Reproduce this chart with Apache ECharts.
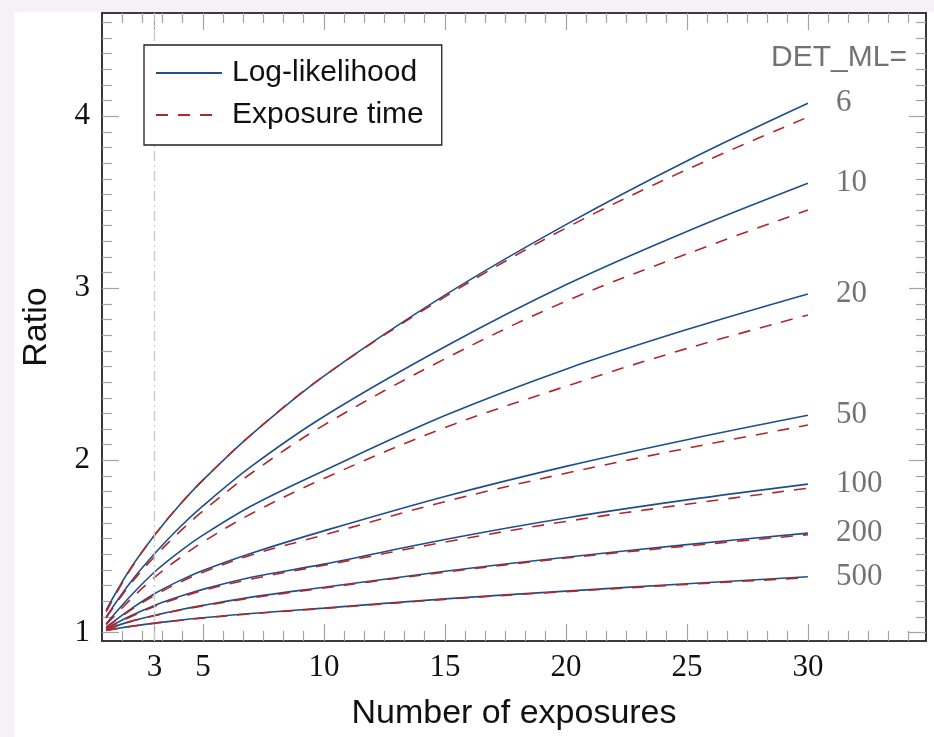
<!DOCTYPE html>
<html>
<head>
<meta charset="utf-8">
<script src="https://cdn.jsdelivr.net/npm/echarts@6/dist/echarts.min.js"></script>
<style>
  html, body { margin: 0; padding: 0; background: #f5f1f5; }
  #panel { position: absolute; left: 14px; top: 12px; right: 0; bottom: 0; background: #ffffff; }
  #chart { position: absolute; left: 0; top: 0; width: 934px; height: 737px; }
</style>
</head>
<body>
<div id="panel"></div>
<div id="chart"></div>
<script>
// Number of exposures (x) at which the ratios are tabulated
const exposures = [1, 2, 3, 4, 5, 7, 10, 15, 20, 25, 30];

// DET_ML thresholds, one curve pair per threshold
const detLevels = ['6', '10', '20', '50', '100', '200', '500'];

// Ratio from the log-likelihood approach
const llDet6   = [1.13, 1.37, 1.565, 1.735, 1.885, 2.15, 2.49, 2.96, 3.37, 3.74, 4.075];
const llDet10  = [1.09, 1.29, 1.457, 1.605, 1.735, 1.965, 2.255, 2.66, 3.02, 3.33, 3.61];
const llDet20  = [1.05, 1.21, 1.351, 1.465, 1.565, 1.735, 1.94, 2.26, 2.53, 2.76, 2.967];
const llDet50  = [1.03, 1.134, 1.225, 1.298, 1.36, 1.46, 1.59, 1.79, 1.965, 2.12, 2.262];
const llDet100 = [1.022, 1.095, 1.157, 1.207, 1.25, 1.32, 1.397, 1.54, 1.665, 1.77, 1.862];
const llDet200 = [1.016, 1.064, 1.099, 1.13, 1.157, 1.205, 1.262, 1.355, 1.437, 1.51, 1.577];
const llDet500 = [1.012, 1.035, 1.054, 1.07, 1.085, 1.11, 1.141, 1.195, 1.24, 1.283, 1.323];

// Ratio from the exposure-time approach
const etDet6   = [1.12, 1.365, 1.565, 1.735, 1.885, 2.15, 2.49, 2.95, 3.35, 3.69, 3.995];
const etDet10  = [1.085, 1.28, 1.44, 1.58, 1.705, 1.925, 2.205, 2.59, 2.925, 3.2, 3.455];
const etDet20  = [1.045, 1.19, 1.32, 1.428, 1.525, 1.69, 1.895, 2.19, 2.43, 2.65, 2.845];
const etDet50  = [1.028, 1.128, 1.215, 1.288, 1.35, 1.45, 1.566, 1.76, 1.925, 2.07, 2.205];
const etDet100 = [1.02, 1.09, 1.151, 1.2, 1.244, 1.31, 1.39, 1.525, 1.645, 1.745, 1.838];
const etDet200 = [1.015, 1.062, 1.097, 1.128, 1.154, 1.2, 1.258, 1.35, 1.432, 1.502, 1.568];
const etDet500 = [1.011, 1.034, 1.053, 1.069, 1.083, 1.108, 1.139, 1.192, 1.237, 1.279, 1.318];

const llCurves = [llDet6, llDet10, llDet20, llDet50, llDet100, llDet200, llDet500];
const etCurves = [etDet6, etDet10, etDet20, etDet50, etDet100, etDet200, etDet500];

// Tick labels
const xTickLabels = [3, 5, 10, 15, 20, 25, 30];
const yTickLabels = [1, 2, 3, 4];

// Axis ranges and tick layout
const X_MIN = 0.83, X_MAX = 34.88;
const Y_MIN = 0.95, Y_MAX = 4.6;
const X_MAJOR_STEP = 5, X_MINOR_PER_MAJOR = 6;
const Y_MAJOR_STEP = 1, Y_MINOR_PER_MAJOR = 11;

function minorTicks(step, parts, lo, hi) {
  const out = [];
  const start = Math.floor(lo / step) * step;
  for (let base = start; base <= hi; base += step) {
    for (let k = 1; k < parts; k++) {
      const v = base + (k * step) / parts;
      if (v > lo + 0.05 && v < hi - 0.02) out.push(+v.toFixed(5));
    }
  }
  return out;
}
const xMinor = minorTicks(X_MAJOR_STEP, X_MINOR_PER_MAJOR, X_MIN, X_MAX);
const yMinor = minorTicks(Y_MAJOR_STEP, Y_MINOR_PER_MAJOR, Y_MIN, Y_MAX);

const BLUE = '#1f4f8b';
const RED = '#b3262a';
const FRAME = '#303030';
const TICK = '#a3a3a3';
const SERIF = "'Liberation Serif', 'DejaVu Serif', serif";
const SANS = "'Liberation Sans', Arial, sans-serif";

function xAxisDef(position, ticks, len, withLabels, withName) {
  return {
    type: 'value', position: position, offset: 0,
    min: X_MIN, max: X_MAX,
    axisLine: { show: true, onZero: false, lineStyle: { color: FRAME, width: 1.6 } },
    axisTick: { show: true, inside: true, length: len, customValues: ticks,
                lineStyle: { color: TICK, width: 1.2 } },
    axisLabel: withLabels
      ? { show: true, customValues: xTickLabels, margin: 11, fontFamily: SERIF, fontSize: 31, color: '#111' }
      : { show: false },
    splitLine: { show: false },
    name: withName ? 'Number of exposures' : '',
    nameLocation: 'middle', nameGap: 56,
    nameTextStyle: { fontFamily: SANS, fontSize: 34, color: '#111' }
  };
}
function yAxisDef(position, ticks, len, withLabels, withName) {
  return {
    type: 'value', position: position, offset: 0,
    min: Y_MIN, max: Y_MAX,
    axisLine: { show: true, onZero: false, lineStyle: { color: FRAME, width: 1.6 } },
    axisTick: { show: true, inside: true, length: len, customValues: ticks,
                lineStyle: { color: TICK, width: 1.2 } },
    axisLabel: withLabels
      ? { show: true, customValues: yTickLabels, margin: 12, fontFamily: SERIF, fontSize: 31, color: '#111' }
      : { show: false },
    splitLine: { show: false },
    name: withName ? 'Ratio' : '',
    nameLocation: 'middle', nameGap: 48,
    nameTextStyle: { fontFamily: SANS, fontSize: 34, color: '#111' }
  };
}

const series = [];
llCurves.forEach((vals, i) => {
  const s = {
    name: 'Log-likelihood', type: 'line', xAxisIndex: 0, yAxisIndex: 0,
    data: exposures.map((x, j) => [x, vals[j]]),
    smooth: 0.35, symbol: 'none', z: 3,
    lineStyle: { color: BLUE, width: 1.6 },
    itemStyle: { color: BLUE },
    endLabel: {
      show: true, formatter: detLevels[i], distance: 28,
      fontFamily: SERIF, fontSize: 31, color: '#737373'
    }
  };
  if (i === 0) {
    s.markLine = {
      silent: true, symbol: 'none', label: { show: false },
      lineStyle: { color: '#c9c9c9', type: [10, 4, 2, 4], width: 1.3 },
      data: [{ xAxis: 3 }]
    };
  }
  series.push(s);
});
etCurves.forEach((vals) => {
  series.push({
    name: 'Exposure time', type: 'line', xAxisIndex: 0, yAxisIndex: 0,
    data: exposures.map((x, j) => [x, vals[j]]),
    smooth: 0.35, symbol: 'none', z: 4,
    lineStyle: { color: RED, width: 1.6, type: [12, 10] },
    itemStyle: { color: RED }
  });
});

const chart = echarts.init(document.getElementById('chart'), null, { renderer: 'canvas' });
chart.setOption({
  animation: false,
  backgroundColor: 'transparent',
  grid: { left: 102, top: 13, width: 824, height: 628, containLabel: false },
  xAxis: [
    xAxisDef('bottom', xTickLabels, 17, true, true),
    xAxisDef('bottom', xMinor, 10, false, false),
    xAxisDef('top', xTickLabels, 17, false, false),
    xAxisDef('top', xMinor, 10, false, false)
  ],
  yAxis: [
    yAxisDef('left', yTickLabels, 17, true, true),
    yAxisDef('left', yMinor, 10, false, false),
    yAxisDef('right', yTickLabels, 17, false, false),
    yAxisDef('right', yMinor, 10, false, false)
  ],
  legend: {
    left: 144, top: 45, orient: 'vertical',
    data: ['Log-likelihood', 'Exposure time'],
    itemWidth: 66, itemHeight: 30, itemGap: 12,
    padding: [13, 18, 15, 11],
    itemStyle: { opacity: 0 },
    backgroundColor: '#ffffff', borderColor: '#222', borderWidth: 1.3, borderRadius: 0,
    textStyle: { fontFamily: SANS, fontSize: 30, color: '#111', lineHeight: 30, padding: [0, 0, 0, 5] },
    z: 10
  },
  graphic: [{
    type: 'text', right: 27, top: 43, z: 10,
    style: { text: 'DET_ML=', fontFamily: SANS, fontSize: 30, fill: '#737373' }
  }],
  series: series
});
</script>
</body>
</html>
